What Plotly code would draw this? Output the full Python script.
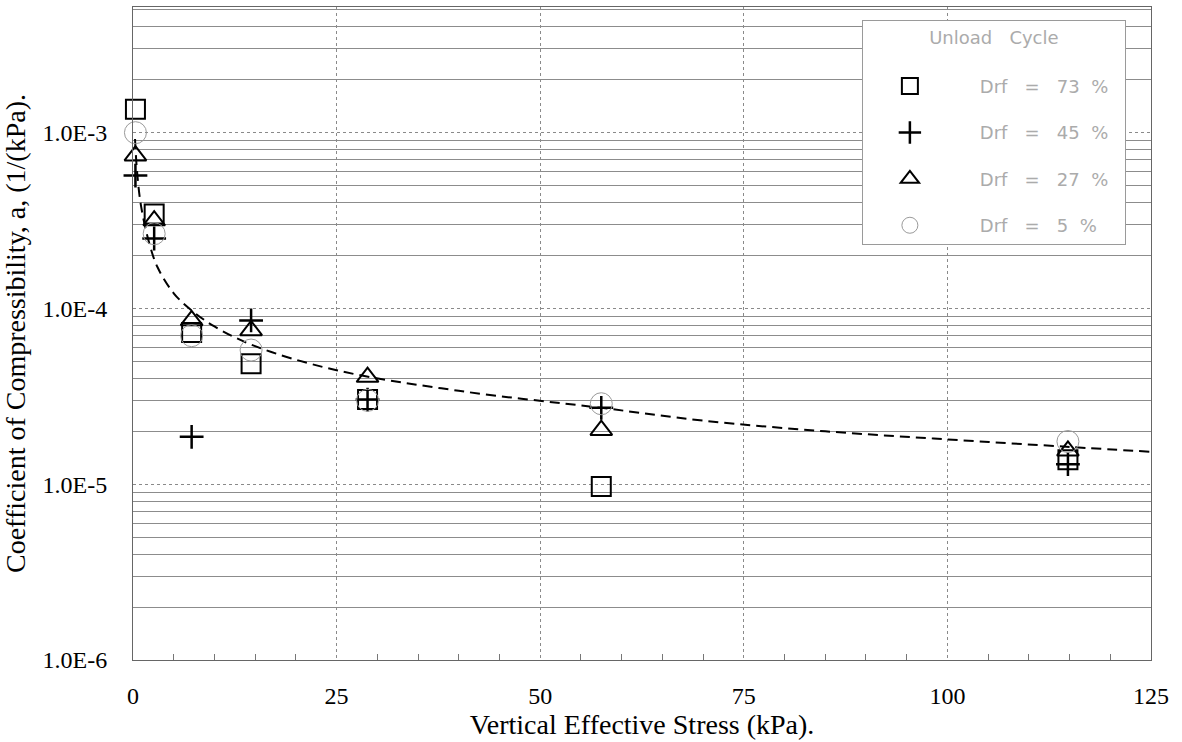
import plotly.graph_objects as go

# ---- data ----
stress = [0.3, 2.6, 7.2, 14.5, 28.8, 57.5, 114.8]

drf73 = [1.36e-3, 3.45e-4, 7.3e-5, 4.85e-5, 3.03e-5, 9.7e-6, 1.38e-5]
drf45 = [5.7e-4, 2.5e-4, 1.86e-5, 8.55e-5, 3.03e-5, 2.72e-5, 1.3e-5]
drf27 = [7.4e-4, 3.16e-4, 8.55e-5, 7.5e-5, 4.07e-5, 2.03e-5, 1.55e-5]
drf5 = [1.0e-3, 2.66e-4, 7.0e-5, 5.8e-5, 3.0e-5, 2.87e-5, 1.75e-5]

fit_x = [0.25, 0.5, 1, 2, 3, 5, 7.2, 10, 15, 25, 40, 57.5, 70, 85, 100, 115, 125]
fit_y = [9.2e-4, 6.0e-4, 3.8e-4, 2.35e-4, 1.72e-4, 1.22e-4, 9.75e-5, 7.9e-5,
         6.1e-5, 4.45e-5, 3.4e-5, 2.72e-5, 2.3e-5, 2.0e-5, 1.8e-5, 1.63e-5, 1.53e-5]

drf_values = ["73", "45", "27", "5"]
legend_title = "Unload Cycle"
y_tick_vals = [1e-6, 1e-5, 1e-4, 1e-3]
y_tick_text = ["1.0E-6", "1.0E-5", "1.0E-4", "1.0E-3"]
x_tick_vals = [0, 25, 50, 75, 100, 125]

NB = "\u00a0"

def lab(v):
    return NB * 4 + "Drf" + NB * 3 + "=" + NB * 3 + v + NB * 2 + "%" + NB * 2

fig = go.Figure()

fig.add_trace(go.Scatter(
    x=fit_x, y=fit_y, mode="lines", showlegend=False, hoverinfo="skip",
    line=dict(color="black", width=2, dash="10px,6px", shape="spline"),
))

styles = [
    (drf73, "square-open", 19, "black", 2),
    (drf45, "cross-thin-open", 17, "black", 2.5),
    (drf27, "triangle-up-open", 19, "black", 2),
    (drf5, "circle-open", 22, "#9a9a9a", 1),
]
for i, (vals, sym, size, col, lw) in enumerate(styles):
    fig.add_trace(go.Scatter(
        x=stress, y=vals, mode="markers", name=lab(drf_values[i]),
        legendgroup=f"g{i}", cliponaxis=False,
        marker=dict(symbol=sym, size=size, color=col, line=dict(color=col, width=lw)),
    ))

serif = "Liberation Serif"
lgfont = dict(family="DejaVu Sans", size=18, color="#ababab")
fig.update_layout(
    width=1182, height=742,
    margin=dict(l=133, r=31, t=7, b=82),
    paper_bgcolor="white", plot_bgcolor="white",
    font=dict(family=serif, size=24, color="black"),
    legend=dict(
        x=0.716, y=0.98, xanchor="left", yanchor="top",
        bgcolor="white", bordercolor="#9a9a9a", borderwidth=1,
        font=lgfont,
        title=dict(text=legend_title.replace(" ", NB * 3) + "<br>" + NB, side="top center",
                   font=lgfont),
        tracegroupgap=20, itemwidth=84,
    ),
    xaxis=dict(
        range=[0, 125], tickvals=x_tick_vals, ticks="",
        showgrid=True, gridcolor="#8a8a8a", griddash="dot", gridwidth=1,
        showline=True, linecolor="#666", linewidth=1, mirror=True,
        zeroline=False, ticklabelstandoff=14,
        tickfont=dict(family=serif, size=24),
        minor=dict(tickvals=[5, 10, 15, 20, 30, 35, 40, 45, 55, 60, 65, 70, 80, 85, 90, 95,
                             105, 110, 115, 120],
                   ticks="inside", ticklen=6, tickcolor="#777", showgrid=False),
        title=dict(text="Vertical Effective Stress (kPa).", standoff=2,
                   font=dict(family=serif, size=28)),
    ),
    yaxis=dict(
        type="log", range=[-6, -2.285],
        tickvals=y_tick_vals, ticktext=y_tick_text, ticks="",
        showgrid=True, gridcolor="#8a8a8a", griddash="dot", gridwidth=1,
        showline=True, linecolor="#666", linewidth=1, mirror=True,
        zeroline=False, ticklabelstandoff=20,
        tickfont=dict(family=serif, size=24),
        minor=dict(tickvals=[m * 10.0 ** e for e in (-6, -5, -4, -3) for m in range(2, 10)],
                   ticks="", showgrid=True, gridcolor="#8c8c8c", gridwidth=1,
                   griddash="solid"),
        title=dict(text="Coefficient of Compressibility, a, (1/(kPa).", standoff=8,
                   font=dict(family=serif, size=28)),
    ),
)

fig.write_html("out.html", config={"displayModeBar": False},
               post_script="document.body.style.margin='0';")
